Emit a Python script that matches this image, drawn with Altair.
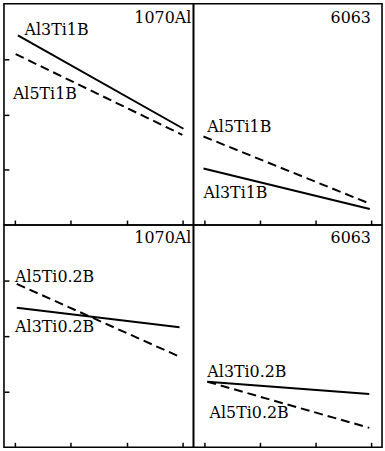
import altair as alt
import pandas as pd

# ---- data ----
line_panel = ["tl", "tl", "tl", "tl",
              "tr", "tr", "tr", "tr",
              "bl", "bl", "bl", "bl",
              "br", "br", "br", "br"]
line_series = ["Al3Ti1B", "Al3Ti1B", "Al5Ti1B", "Al5Ti1B",
               "Al3Ti1B", "Al3Ti1B", "Al5Ti1B", "Al5Ti1B",
               "Al3Ti0.2B", "Al3Ti0.2B", "Al5Ti0.2B", "Al5Ti0.2B",
               "Al3Ti0.2B", "Al3Ti0.2B", "Al5Ti0.2B", "Al5Ti0.2B"]
line_style = ["solid", "solid", "dashed", "dashed"] * 4
line_x = [0.05, 3.02, 0.01, 3.0,
          -0.02, 2.98, -0.02, 2.97,
          0.03, 2.95, 0.03, 2.95,
          0.05, 2.97, 0.05, 2.97]
line_y = [3.43, 1.74, 3.09, 1.63,
          1.02, 0.29, 1.60, 0.39,
          2.51, 2.16, 2.94, 1.63,
          1.18, 0.96, 1.18, 0.35]

label_panel = ["tl", "tl", "tl", "tr", "tr", "tr", "bl", "bl", "bl", "br", "br", "br"]
label_text = ["Al3Ti1B", "Al5Ti1B", "1070Al",
              "Al5Ti1B", "Al3Ti1B", "6063",
              "Al5Ti0.2B", "Al3Ti0.2B", "1070Al",
              "Al3Ti0.2B", "Al5Ti0.2B", "6063"]
label_x = [0.17, -0.04, 3.16,
           0.05, -0.02, 3.0,
           0.0, 0.0, 3.16,
           0.05, 0.09, 3.0]
label_y = [3.53, 2.37, 3.75,
           1.78, 0.57, 3.75,
           3.07, 2.16, 3.77,
           1.36, 0.62, 3.77]
label_side = ["left", "left", "right"] * 4

x_ticks = [0, 1, 2, 3]
y_ticks = [1, 2, 3]

lines = pd.DataFrame({"panel": line_panel, "series": line_series, "style": line_style,
                      "x": line_x, "y": line_y})
labels = pd.DataFrame({"panel": label_panel, "label": label_text, "x": label_x,
                       "y": label_y, "side": label_side})

FONT = "DejaVu Serif"


def panel(p, left, w, h):
    xs = alt.Scale(domain=[-0.2, 3.2], nice=False, zero=False)
    ys = alt.Scale(domain=[0, 4], nice=False, zero=False)
    xax = alt.Axis(values=x_ticks, labels=False, title=None, domain=False, grid=False,
                   tickSize=5, offset=-5, tickColor="black", tickWidth=1.5)
    if left:
        yax = alt.Axis(values=y_ticks, labels=False, title=None, domain=False, grid=False,
                       tickSize=5, offset=-5, tickColor="black", tickWidth=1.5)
    else:
        yax = None
    X = alt.X("x:Q", scale=xs, axis=xax)
    Y = alt.Y("y:Q", scale=ys, axis=yax)
    d = lines[lines.panel == p]
    solid = alt.Chart(d[d["style"] == "solid"]).mark_line(
        color="black", strokeWidth=2).encode(x=X, y=Y, detail="series:N")
    dashed = alt.Chart(d[d["style"] == "dashed"]).mark_line(
        color="black", strokeWidth=2, strokeDash=[9, 5]).encode(x=X, y=Y, detail="series:N")
    lb = labels[labels.panel == p]
    tleft = alt.Chart(lb[lb.side == "left"]).mark_text(
        font=FONT, fontSize=16, align="left", baseline="middle", color="black"
    ).encode(x=X, y=Y, text="label:N")
    tright = alt.Chart(lb[lb.side == "right"]).mark_text(
        font=FONT, fontSize=16, align="right", baseline="middle", color="black"
    ).encode(x=X, y=Y, text="label:N")
    return alt.layer(solid, dashed, tleft, tright).properties(width=w, height=h)


chart = alt.concat(
    panel("tl", True, 191, 223), panel("tr", False, 190, 223),
    panel("bl", True, 191, 224), panel("br", False, 190, 224),
    columns=2, spacing=0, bounds="flush",
).properties(
    padding={"left": 2, "top": 1, "right": 2, "bottom": 2},
    background="white",
).configure_view(stroke="black", strokeWidth=1.6)

chart.save("out.html", embed_options={"renderer": "svg", "actions": False})
